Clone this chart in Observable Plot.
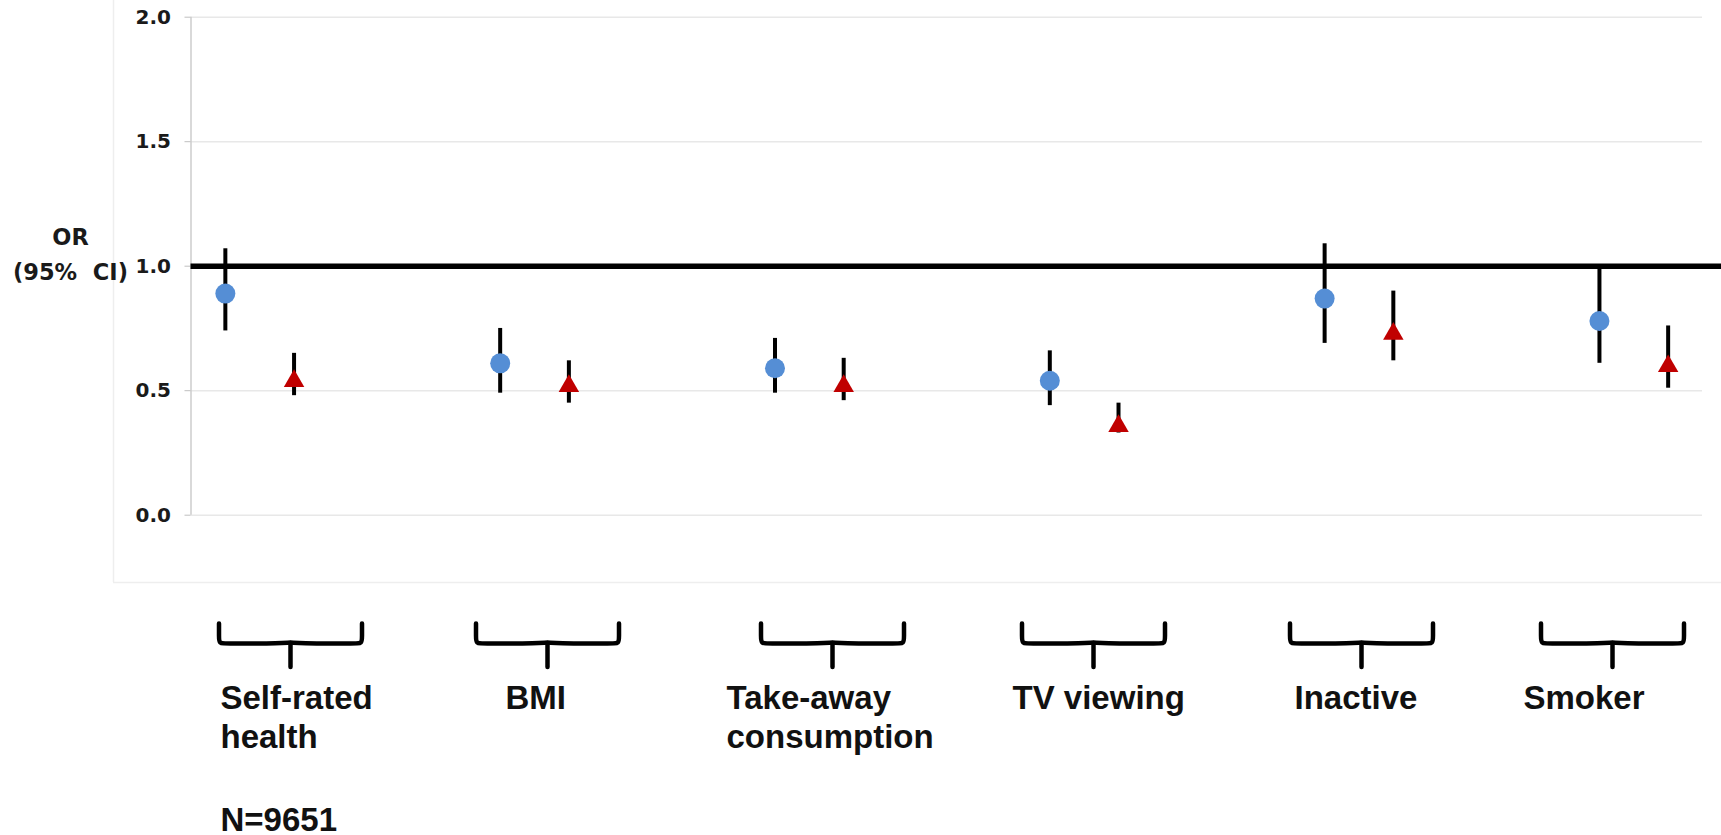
<!DOCTYPE html>
<html>
<head>
<meta charset="utf-8">
<script src="https://cdn.jsdelivr.net/npm/d3@7"></script>
<script src="https://cdn.jsdelivr.net/npm/@observablehq/plot@0.6"></script>
<style>
  html, body { margin: 0; padding: 0; background: #fff; overflow: hidden; }
  #chart svg { display: block; }
</style>
</head>
<body>
<div id="chart"></div>
<script>
// ---- Data ----
const categories = ["Self-rated health", "BMI", "Take-away consumption", "TV viewing", "Inactive", "Smoker"];
const categoryLabels = ["Self-rated\nhealth", "BMI", "Take-away\nconsumption", "TV viewing", "Inactive", "Smoker"];
// series 1 (blue circles)
const blueOR = [0.89, 0.61, 0.59, 0.54, 0.87, 0.78];
const blueLo = [0.74, 0.49, 0.49, 0.44, 0.69, 0.61];
const blueHi = [1.07, 0.75, 0.71, 0.66, 1.09, 0.99];
// series 2 (red triangles)
const redOR = [0.55, 0.53, 0.53, 0.37, 0.74, 0.61];
const redLo = [0.48, 0.45, 0.46, 0.33, 0.62, 0.51];
const redHi = [0.65, 0.62, 0.63, 0.45, 0.90, 0.76];
const yTicks = [0, 0.5, 1, 1.5, 2];
const referenceOR = 1;
const sampleNote = "N=9651";
const yLabel = "OR\n(95%\u00a0 CI)";

// ---- Layout ----
const W = 1721, H = 835;
const margin = {left: 190.5, right: 19, top: 16.7, bottom: 320.3};
const xDomain = [-0.125, 5.375];
const seriesOffset = 0.25;
const X = d3.scaleLinear().domain(xDomain).range([margin.left, W - margin.right]);
const Y = d3.scaleLinear().domain([0, 2]).range([H - margin.bottom, margin.top]);
const xu = px => X.invert(px);   // annotation pixel -> x units
const yu = px => Y.invert(px);   // annotation pixel -> y units

// hand-placed annotation positions (pixels) for braces and labels
const braceStemPx = [290, 547, 832, 1093, 1361, 1612];
const labelLeftPx = [220, 505, 726, 1012, 1294, 1523];
const braceHalf = 71.5, cr = 7;
const braceTop = 623, braceMid = 643, braceBottom = 667;

const rowsBlue = categories.map((c, i) => ({cat: c, x: i, or: blueOR[i], lo: blueLo[i], hi: blueHi[i]}));
const rowsRed = categories.map((c, i) => ({cat: c, x: i + seriesOffset, or: redOR[i], lo: redLo[i], hi: redHi[i]}));

const bracePts = [];
braceStemPx.forEach((s, i) => {
  const L = s - braceHalf, R = s + braceHalf;
  [[L, braceTop], [L, braceMid - cr], [L, braceMid], [L + cr, braceMid],
   [s - cr, braceMid], [s, braceMid - 1.5], [s + cr, braceMid],
   [R - cr, braceMid], [R, braceMid], [R, braceMid - cr], [R, braceTop]]
    .forEach(([px, py]) => bracePts.push({id: i, x: xu(px), y: yu(py)}));
});
const braceStems = braceStemPx.map(s => ({x: xu(s), y1: yu(braceMid), y2: yu(braceBottom)}));
const labelRows = categoryLabels.map((t, i) => ({text: t, x: xu(labelLeftPx[i])}));

const labelFont = "'Liberation Sans', Arial, sans-serif";
const axisFont = "'DejaVu Sans', Verdana, sans-serif";
const catSize = 33, catLH = 40 / 33;

const chart = Plot.plot({
  width: W,
  height: H,
  marginLeft: margin.left,
  marginRight: margin.right,
  marginTop: margin.top,
  marginBottom: margin.bottom,
  style: {background: "#fff", color: "#111", overflow: "visible"},
  x: {type: "linear", domain: xDomain, axis: null},
  y: {type: "linear", domain: [0, 2], axis: null},
  marks: [
    // faint chart-area border
    Plot.ruleX([xu(113)], {y1: yu(582), y2: yu(0), stroke: "#eeeeee", strokeWidth: 1.5}),
    Plot.ruleY([yu(582)], {x1: xu(113), x2: xu(W), stroke: "#eeeeee", strokeWidth: 1.5}),
    // gridlines
    Plot.ruleY(yTicks, {stroke: "#e8e8e8", strokeWidth: 1.5}),
    // y axis line
    Plot.ruleX([xDomain[0]], {y1: 0, y2: 2, stroke: "#cccccc", strokeWidth: 1.5}),
    Plot.axisY({
      ticks: yTicks,
      tickFormat: d3.format(".1f"),
      tickSize: 6,
      tickPadding: 14,
      stroke: "#bfbfbf",
      fill: "#1a1a1a",
      fontSize: 20,
      fontWeight: "bold",
      fontFamily: axisFont,
      label: null
    }),
    // reference line at OR = 1
    Plot.ruleY([referenceOR], {x1: xDomain[0], x2: xu(W), stroke: "#000", strokeWidth: 5.5}),
    // confidence intervals
    Plot.ruleX(rowsBlue, {x: "x", y1: "lo", y2: "hi", stroke: "#000", strokeWidth: 4}),
    Plot.ruleX(rowsRed, {x: "x", y1: "lo", y2: "hi", stroke: "#000", strokeWidth: 4}),
    // point estimates
    Plot.dot(rowsBlue, {x: "x", y: "or", r: 10, fill: "#558ED5", stroke: null}),
    Plot.dot(rowsRed, {x: "x", y: "or", r: 7.6, symbol: "triangle", fill: "#C00000", stroke: null, dy: 2.9}),
    // braces
    Plot.line(bracePts, {x: "x", y: "y", z: "id", stroke: "#000", strokeWidth: 4.5, strokeLinejoin: "round", strokeLinecap: "round", curve: "basis"}),
    Plot.ruleX(braceStems, {x: "x", y1: "y1", y2: "y2", stroke: "#000", strokeWidth: 4.5, strokeLinecap: "round"}),
    // category labels
    Plot.text(labelRows, {
      x: "x", y: yu(708 - 0.71 * catLH * catSize), text: "text",
      textAnchor: "start", lineAnchor: "top", lineHeight: catLH,
      fontSize: catSize, fontWeight: "bold", fontFamily: labelFont, fill: "#111"
    }),
    // sample size note
    Plot.text([sampleNote], {
      x: xu(220), y: yu(830), text: d => d,
      textAnchor: "start", lineAnchor: "bottom",
      fontSize: catSize, fontWeight: "bold", fontFamily: labelFont, fill: "#111"
    }),
    // y axis title
    Plot.text([yLabel], {
      x: xu(70), y: yu(279), text: d => d,
      textAnchor: "middle", lineAnchor: "bottom", lineHeight: 35 / 22.5,
      fontSize: 22.5, fontWeight: "bold", fontFamily: axisFont, fill: "#1a1a1a"
    })
  ]
});
document.getElementById("chart").appendChild(chart);
</script>
</body>
</html>
